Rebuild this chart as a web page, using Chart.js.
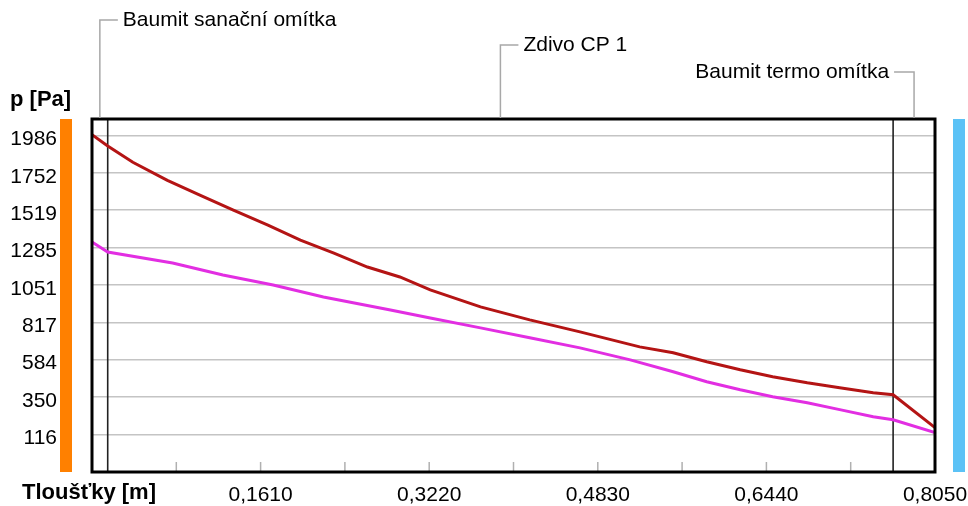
<!DOCTYPE html>
<html>
<head>
<meta charset="utf-8">
<title>Průběh tlaku vodní páry</title>
<script src="https://cdn.jsdelivr.net/npm/chart.js@4.4.0/dist/chart.umd.min.js"></script>
<style>
  html, body { margin: 0; padding: 0; background: #fff; }
  #wrap { width: 968px; height: 506px; }
</style>
</head>
<body>
<div id="wrap"><canvas id="graf"></canvas></div>
<script>
// tlak nasycené vodní páry [Pa] v dané tloušťce [m]
var xSat = [0, 0.015, 0.039, 0.072, 0.103, 0.135, 0.168, 0.199, 0.231, 0.263, 0.294, 0.323, 0.371, 0.418, 0.466, 0.523, 0.555, 0.587, 0.619, 0.650, 0.683, 0.714, 0.746, 0.765, 0.805];
var pSat = [1990, 1920, 1818, 1705, 1612, 1518, 1425, 1331, 1250, 1163, 1101, 1020, 914, 833, 758, 664, 627, 571, 521, 478, 440, 409, 378, 365, 160];
// částečný tlak vodní páry [Pa]
var xPart = [0, 0.015, 0.077, 0.125, 0.173, 0.221, 0.285, 0.323, 0.371, 0.418, 0.466, 0.514, 0.555, 0.587, 0.619, 0.650, 0.683, 0.714, 0.746, 0.765, 0.805];
var pPart = [1319, 1257, 1188, 1113, 1051, 976, 895, 845, 783, 721, 658, 583, 509, 446, 396, 353, 315, 272, 228, 209, 128];

var yTicks = [116, 350, 584, 817, 1051, 1285, 1519, 1752, 1986];
var xTicks = [0, 0.0805, 0.161, 0.2415, 0.322, 0.4025, 0.483, 0.5635, 0.644, 0.7245, 0.805];
var xTickLabels = ['', '', '0,1610', '', '0,3220', '', '0,4830', '', '0,6440', '', '0,8050'];

var layerNames = ['Baumit sanační omítka', 'Zdivo CP 1', 'Baumit termo omítka'];
var layerBounds = [0, 0.015, 0.765, 0.805];

var FONT = "'Liberation Sans', Arial, sans-serif";

function points(xs, ys) {
    var out = [];
    for (var i = 0; i < xs.length; i++) {
        out.push({x: xs[i], y: ys[i]});
    }
    return out;
}

var decor = {
    id: 'decor',
    beforeDraw: function(chart) {
        var ctx = chart.ctx, a = chart.chartArea;
        ctx.save();
        // bocni pruhy (interier / exterier)
        ctx.fillStyle = '#ff8000';
        ctx.fillRect(a.left - 32, a.top, 12, a.bottom - a.top);
        ctx.fillStyle = '#5bc2f6';
        ctx.fillRect(a.right + 18, a.top, 12, a.bottom - a.top);
        ctx.restore();
    },
    beforeDatasetsDraw: function(chart) {
        var ctx = chart.ctx, a = chart.chartArea, xs = chart.scales.x;
        ctx.save();
        // male carky zdola
        ctx.strokeStyle = '#b0b0b0';
        ctx.lineWidth = 1.5;
        for (var i = 1; i < xTicks.length - 1; i++) {
            var px = xs.getPixelForValue(xTicks[i]);
            ctx.beginPath();
            ctx.moveTo(px, a.bottom);
            ctx.lineTo(px, a.bottom - 10);
            ctx.stroke();
        }
        // hranice vrstev
        ctx.strokeStyle = '#222';
        ctx.lineWidth = 1.6;
        for (var j = 1; j < layerBounds.length - 1; j++) {
            var bx = xs.getPixelForValue(layerBounds[j]);
            ctx.beginPath();
            ctx.moveTo(bx, a.top);
            ctx.lineTo(bx, a.bottom);
            ctx.stroke();
        }
        ctx.restore();
    },
    afterDraw: function(chart) {
        var ctx = chart.ctx, a = chart.chartArea, xs = chart.scales.x;
        ctx.save();
        ctx.strokeStyle = '#000';
        ctx.lineWidth = 3;
        ctx.strokeRect(a.left, a.top, a.right - a.left, a.bottom - a.top);

        // popisky vrstev
        var levels = [20, 45, 72];
        ctx.font = '21px ' + FONT;
        ctx.fillStyle = '#000';
        ctx.textBaseline = 'middle';
        ctx.strokeStyle = '#a8a8a8';
        ctx.lineWidth = 1.5;
        for (var k = 0; k < layerNames.length; k++) {
            var mx = xs.getPixelForValue((layerBounds[k] + layerBounds[k + 1]) / 2);
            var ly = levels[k];
            var last = k == layerNames.length - 1;
            var ex = last ? mx - 20 : mx + 18;
            ctx.beginPath();
            ctx.moveTo(mx, a.top - 1);
            ctx.lineTo(mx, ly);
            ctx.lineTo(ex, ly);
            ctx.stroke();
            ctx.textAlign = last ? 'right' : 'left';
            ctx.fillText(layerNames[k], last ? ex - 5 : ex + 5, ly);
        }

        // nazvy os
        ctx.font = 'bold 22px ' + FONT;
        ctx.textAlign = 'left';
        ctx.fillText('p [Pa]', 10, 100);
        ctx.fillText('Tloušťky [m]', 22, 493);
        ctx.restore();
    }
};

var ctx = document.getElementById('graf').getContext('2d');
var graf = new Chart(ctx, {
    type: 'scatter',
    data: {
        datasets: [{
            label: 'p sat',
            data: points(xSat, pSat),
            showLine: true,
            borderColor: '#b41414',
            borderWidth: 3,
            pointRadius: 0,
            tension: 0
        }, {
            label: 'p',
            data: points(xPart, pPart),
            showLine: true,
            borderColor: '#e22ee2',
            borderWidth: 3,
            pointRadius: 0,
            tension: 0
        }]
    },
    options: {
        responsive: true,
        maintainAspectRatio: false,
        animation: false,
        layout: {
            padding: {top: 119, right: 33, left: 0, bottom: 0}
        },
        plugins: {
            legend: {display: false},
            tooltip: {enabled: false}
        },
        scales: {
            x: {
                type: 'linear',
                min: 0,
                max: 0.805,
                afterBuildTicks: function(scale) {
                    scale.ticks = xTicks.map(function(v) { return {value: v}; });
                },
                afterFit: function(scale) {
                    scale.height = 34;
                    scale.paddingLeft = 0;
                    scale.paddingRight = 0;
                },
                grid: {display: false, drawTicks: false},
                border: {display: false},
                ticks: {
                    autoSkip: false,
                    maxRotation: 0,
                    padding: 11,
                    color: '#000',
                    font: {family: FONT, size: 21},
                    callback: function(v, i) { return xTickLabels[i]; }
                }
            },
            y: {
                min: -117.75,
                max: 2088,
                afterBuildTicks: function(scale) {
                    scale.ticks = yTicks.map(function(v) { return {value: v}; });
                },
                afterFit: function(scale) {
                    scale.width = 92;
                    scale.paddingTop = 0;
                    scale.paddingBottom = 0;
                },
                grid: {color: '#c4c4c4', lineWidth: 1.5, drawTicks: true, tickLength: 33, tickColor: 'rgba(0,0,0,0)'},
                border: {display: false},
                ticks: {
                    padding: 2,
                    labelOffset: 4,
                    color: '#000',
                    font: {family: FONT, size: 21},
                    callback: function(v) { return String(v); }
                }
            }
        }
    },
    plugins: [decor]
});
</script>
</body>
</html>
